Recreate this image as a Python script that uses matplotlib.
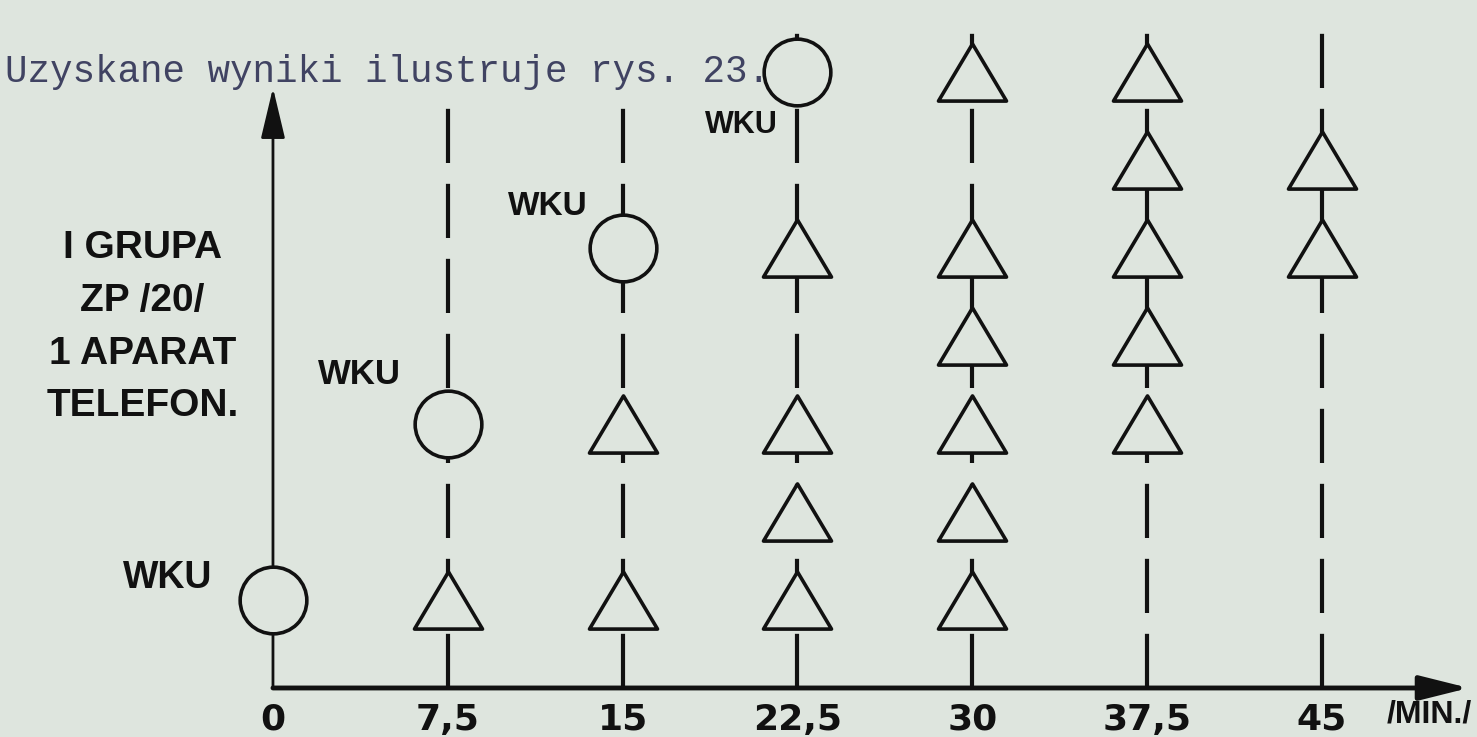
import matplotlib
matplotlib.use("Agg")
import matplotlib.pyplot as plt
from matplotlib.path import Path
from matplotlib import font_manager

# time axis (minutes) and tick labels
times = [0, 7.5, 15, 22.5, 30, 37.5, 45]
tick_labels = ['0', '7,5', '15', '22,5', '30', '37,5', '45']

# WKU stations (circles)
wku_times = [0, 7.5, 15, 22.5]
wku_levels = [1, 3, 5, 7]

# telephone sets (triangles)
tri_times = [7.5,
             15, 15,
             22.5, 22.5, 22.5, 22.5,
             30, 30, 30, 30, 30, 30,
             37.5, 37.5, 37.5, 37.5, 37.5,
             45, 45]
tri_levels = [1,
              1, 3,
              1, 2, 3, 5,
              1, 2, 3, 4, 5, 7,
              3, 4, 5, 6, 7,
              5, 6]

# height of the dashed line drawn at each time
line_tops = [6.82, 6.72, 6.63, 7.65, 7.65, 7.61, 7.53]

group_lines = ['I GRUPA', 'ZP /20/', '1 APARAT', 'TELEFON.']

bg = '#dee5de'
ink = '#111111'

installed = {f.name for f in font_manager.fontManager.ttflist}
hand = 'Liberation Sans Narrow' if 'Liberation Sans Narrow' in installed else 'Liberation Sans'

fig = plt.figure(figsize=(14.77, 7.37), dpi=100, facecolor=bg)
ax = fig.add_axes([0, 0, 1, 1])
ax.set_facecolor(bg)
ax.set_xlim(-11.71, 51.65)
ax.set_ylim(-0.557, 7.818)
ax.axis('off')

# dashed vertical lines for each time
for t, top in zip(times[1:], line_tops[1:]):
    ax.plot([t, t], [0, top], color=ink, lw=3, dashes=(13, 5), zorder=1,
            solid_capstyle='butt', dash_capstyle='butt')

# axes with arrows
ax.annotate('', xy=(0, line_tops[0]), xytext=(0, 0),
            arrowprops=dict(arrowstyle='-|>,head_length=1.05,head_width=0.25',
                            lw=2, color=ink, mutation_scale=30, shrinkA=0, shrinkB=0),
            zorder=2)
ax.annotate('', xy=(51.3, 0), xytext=(0, 0),
            arrowprops=dict(arrowstyle='-|>,head_length=1.0,head_width=0.25',
                            lw=3.5, color=ink, mutation_scale=30, shrinkA=0, shrinkB=0),
            zorder=2)

# triangle marker, wider than tall
tri = Path([(0, 0.84), (-1, -0.84), (1, -0.84), (0, 0.84)],
           [Path.MOVETO, Path.LINETO, Path.LINETO, Path.CLOSEPOLY])
ax.plot(tri_times, tri_levels, linestyle='none', marker=tri, markersize=49,
        markerfacecolor=bg, markeredgecolor=ink, markeredgewidth=2.6, zorder=3)
ax.plot(wku_times, wku_levels, linestyle='none', marker='o', markersize=48,
        markerfacecolor=bg, markeredgecolor=ink, markeredgewidth=2.6, zorder=3)

# WKU labels
wku_label_pos = [(-4.5, 1.25), (3.73, 3.56), (11.8, 5.47), (20.1, 6.4)]
wku_label_size = [27, 25, 24, 22]
for (x, y), s in zip(wku_label_pos, wku_label_size):
    ax.text(x, y, 'WKU', family=hand, fontsize=s, fontweight='bold', ha='center',
            va='center', color=ink)

# tick labels
for t, lab in zip(times, tick_labels):
    ax.text(t, -0.36, lab, family='DejaVu Sans', fontsize=26, fontweight='bold',
            ha='center', va='center', color=ink)
ax.text(49.6, -0.3, '/MIN./', family=hand, fontsize=23, fontweight='bold',
        ha='center', va='center', color=ink)

# left group description
for i, txt in enumerate(group_lines):
    ax.text(-5.6, 5.0 - 0.6 * i, txt, family=hand, fontsize=28, fontweight='bold',
            ha='center', va='center', color=ink)

# typewritten sentence above the chart
ax.text(-11.5, 7.0, 'Uzyskane wyniki ilustruje rys. 23.', family='Liberation Mono',
        fontsize=27, ha='left', va='center', color='#404362', zorder=2)

fig.savefig('out.png', dpi=100, facecolor=bg)
